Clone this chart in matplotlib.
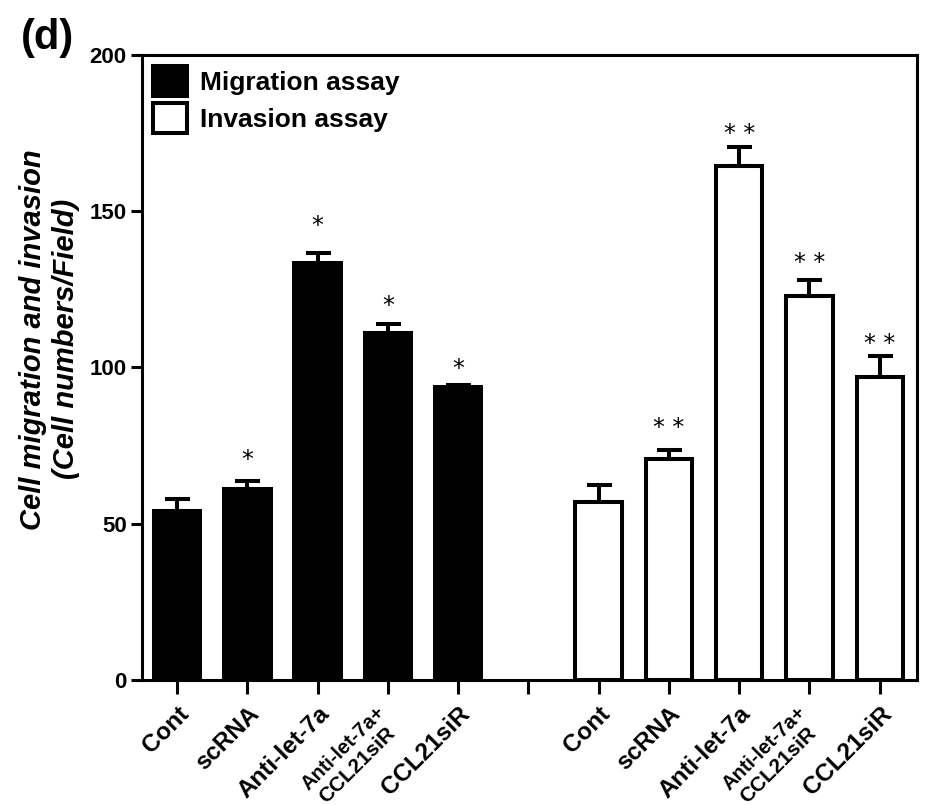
import numpy as np
import matplotlib
matplotlib.use('Agg')
import matplotlib.pyplot as plt
from matplotlib.patches import Patch

plt.rcParams['font.family'] = ['Liberation Sans', 'DejaVu Sans']

# group labels and measured values (cells per field)
labels = ['Cont', 'scRNA', 'Anti-let-7a', '', 'CCL21siR']
migration = [54.1, 61.1, 133.4, 111.1, 93.9]
migration_err = [3.8, 2.7, 3.3, 2.8, 0.6]
invasion = [56.8, 70.6, 164.5, 123.0, 97.1]
invasion_err = [5.6, 3.0, 6.2, 5.0, 6.7]
migration_marks = ['', '*', '*', '*', '*']
invasion_marks = ['', '* *', '* *', '* *', '* *']

# gap (points) between error cap and significance mark
migration_gap = [0, 15, 19, 13, 11]
invasion_gap = [0, 16, 9, 12, 8]

x_mig = np.arange(5)
x_inv = np.arange(6, 11)
w = 0.66
lw = 2.9

fig = plt.figure(figsize=(9.29, 8.05), dpi=100)
ax = fig.add_axes([0.1529, 0.1553, 0.987 - 0.1529, 0.9317 - 0.1553])

ax.bar(x_mig, migration, width=w, color='black', edgecolor='black', linewidth=lw, zorder=2)
ax.bar(x_inv, invasion, width=w, color='white', edgecolor='black', linewidth=lw, zorder=2)

for xs, vals, errs in [(x_mig, migration, migration_err), (x_inv, invasion, invasion_err)]:
    ax.errorbar(xs, vals, yerr=[np.zeros(len(errs)), errs], fmt='none', ecolor='black',
                elinewidth=lw, capsize=9, capthick=lw, zorder=3)

for xs, vals, errs, marks, gaps in [(x_mig, migration, migration_err, migration_marks, migration_gap),
                                    (x_inv, invasion, invasion_err, invasion_marks, invasion_gap)]:
    for xi, v, e, m, g in zip(xs, vals, errs, marks, gaps):
        if m:
            ax.annotate(m, xy=(xi, v + e), xytext=(0, g), textcoords='offset points',
                        ha='center', va='center', fontsize=17, family='DejaVu Sans')

ax.set_xlim(-0.5, 10.53)
ax.set_ylim(0, 200)
ax.set_yticks([0, 50, 100, 150, 200])
ax.set_xticks(np.arange(11))
ax.set_xticklabels(labels + [''] + labels, rotation=45, ha='right',
                   rotation_mode='anchor', fontsize=17.5, fontweight='bold')

# two-line label with a smaller first line
for xi in (3, 9):
    ax.annotate('Anti-let-7a+', xy=(xi, 0), xycoords=('data', 'axes fraction'),
                xytext=(-9, -16), textcoords='offset points', rotation=45,
                ha='right', va='top', rotation_mode='anchor', fontsize=14.5,
                fontweight='bold', annotation_clip=False)
    ax.annotate('CCL21siR', xy=(xi, 0), xycoords=('data', 'axes fraction'),
                xytext=(-2, -31), textcoords='offset points', rotation=45,
                ha='right', va='top', rotation_mode='anchor', fontsize=15,
                fontweight='bold', annotation_clip=False)

for lab in ax.get_yticklabels():
    lab.set_fontweight('bold')
    lab.set_fontsize(16)
    lab.set_family(['Liberation Sans Narrow', 'Liberation Sans'])

ax.tick_params(axis='both', direction='out', width=2.2, length=8, pad=3)
ax.tick_params(axis='x', length=10, pad=6)
for sp in ax.spines.values():
    sp.set_linewidth(2.2)

ax.set_ylabel('Cell migration and invasion\n(Cell numbers/Field)', fontsize=21,
              fontweight='bold', style='italic', linespacing=1.22)
ax.yaxis.set_label_coords(-0.08, 0.545)

handles = [Patch(facecolor='black', edgecolor='black', linewidth=lw, label='Migration assay'),
           Patch(facecolor='white', edgecolor='black', linewidth=lw, label='Invasion assay')]
leg = ax.legend(handles=handles, loc='upper left', frameon=False, fontsize=19,
                handlelength=1.3, handleheight=1.4, handletextpad=0.5,
                labelspacing=0.25, borderaxespad=0.2, borderpad=0.2)
for t in leg.get_texts():
    t.set_fontweight('bold')

fig.text(0.022, 0.978, '(d)', fontsize=30, fontweight='bold', ha='left', va='top')

fig.savefig('out.png', dpi=100)
